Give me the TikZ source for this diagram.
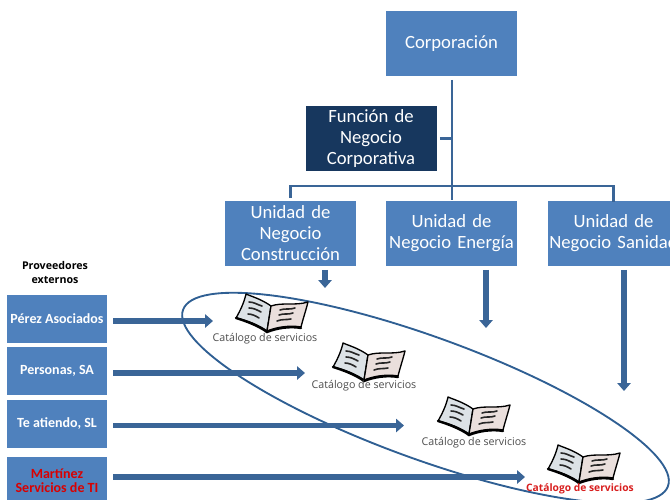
\documentclass[tikz,border=0pt]{standalone}
\usepackage{fontspec}
\setmainfont{Carlito}
\newfontfamily\boldsmall{Open Sans}
\usetikzlibrary{shapes.geometric,arrows.meta}
\definecolor{boxblue}{HTML}{4F81BD}
\definecolor{boxdark}{HTML}{17375E}
\definecolor{linkblue}{HTML}{3A6597}
\definecolor{ringblue}{HTML}{2F5F93}
\definecolor{pageL}{HTML}{DCE2E6}
\definecolor{pageR}{HTML}{EADFDC}
\definecolor{redtext}{HTML}{D81E1E}
\tikzset{
  x=0.75pt,y=-0.75pt,
  bx/.style={fill=boxblue,draw=none,inner sep=0pt,text=white,align=center,font=\fontsize{14}{15.75}\selectfont,text width=98.25pt,minimum height=48.75pt,anchor=center},
  darkbx/.style={bx,fill=boxdark},
  prov/.style={fill=boxblue,inner sep=0pt,text=white,align=center,font=\fontsize{10.5}{10.5}\bfseries\selectfont,minimum width=75pt,minimum height=36pt},
  link/.style={draw=linkblue,line width=2.2pt},
  blockarrow/.style={draw=linkblue,line width=4pt,-{Triangle[length=6pt,width=10pt]}},
  catlabel/.style={inner sep=0pt,font=\boldsmall\fontsize{8}{9}\selectfont,text=black!70},
  book/.pic={
    \fill[pageL,draw=black,line width=1pt,line join=round] (36,13) .. controls (26,6) and (18,4) .. (11,1) .. controls (9,10) and (5,18) .. (1,25) .. controls (11,27) and (24,32) .. (32,38) -- cycle;
    \fill[pageR,draw=black,line width=1pt,line join=round] (36,13) .. controls (48,9) and (60,13) .. (73,9) .. controls (71,17) and (68,26) .. (66,34) .. controls (55,32) and (42,34) .. (32,38) -- cycle;
    \draw[black,line width=1.8pt,line cap=round] (1,25) .. controls (11,28) and (24,33) .. (32,39) .. controls (42,35) and (55,33) .. (66,35);
    \draw[black!85,line width=1.2pt,line cap=round]
      (14,9) .. controls (19,9) and (23,12) .. (27,13)
      (14,15) .. controls (19,15) and (22,17) .. (26,19)
      (13,21) .. controls (17,21) and (21,23) .. (24,25)
      (45,17) .. controls (50,15) and (55,17) .. (60,15)
      (44,22) .. controls (49,20) and (53,22) .. (58,20)
      (42,28) .. controls (47,26) and (51,27) .. (56,26);
  }
}
\begin{document}
\begin{tikzpicture}
\useasboundingbox (0,0) rectangle (670,499);
\begin{scope}
\clip (0,0) rectangle (670,499);
\node[ellipse,draw=ringblue,line width=1.4pt,minimum width=387pt,minimum height=91.5pt,inner sep=0pt,rotate=-20] (ring) at (425.5,398) {};

\node[bx] (corp) at (451.5,44) {Corporación};
\node[darkbx] (func) at (371,138.5) {Función de\\Negocio\\Corporativa};
\node[bx] (ucon) at (290.5,233) {Unidad de\\Negocio\\Construcción};
\node[bx] (uene) at (451.5,233) {Unidad de\\Negocio Energía};
\node[bx] (usan) at (613.5,233) {Unidad de\\Negocio Sanidad};

\coordinate (bus) at (452,186);
\draw[link] (corp.south -| bus) ++(0,3) -- (uene.north -| bus);
\draw[link] (func.east) ++(3,0) -- (func.east -| bus);
\draw[link] (ucon.north) ++(0,-2) |- (bus) -| ([yshift=-1.5pt]usan.north);

\node[prov] (p1) at (57,319) {Pérez Asociados};
\node[prov] (p2) at (57,371) {Personas, SA};
\node[prov] (p3) at (57,424) {Te atiendo, SL};
\node[prov,text=red!85!black] (p4) at (57,481) {Martínez\\Servicios de TI};

\node[inner sep=0pt,align=center,font=\boldsmall\fontsize{8}{10.5}\bfseries\selectfont] (ext) at (55,272) {Proveedores\\externos};

\pic at (235,293) {book};
\pic at (332,342) {book};
\pic at (437,396) {book};
\pic at (547,444) {book};

\node[catlabel] (c1) at (265,339) {Catálogo de servicios};
\node[catlabel] (c2) at (364,386) {Catálogo de servicios};
\node[catlabel] (c3) at (474,443) {Catálogo de servicios};
\node[catlabel,text=redtext,font=\boldsmall\fontsize{7.7}{9}\bfseries\selectfont] (c4) at (580,489) {Catálogo de servicios};

\coordinate (e1) at (213,321);
\coordinate (e2) at (305,373);
\coordinate (e3) at (404,425.5);
\coordinate (e4) at (525,477);
\coordinate (d1) at (325,288);
\coordinate (d2) at (486,328);
\coordinate (d3) at (624,391);
\draw[blockarrow] ([xshift=4.5pt]p1.east |- e1) -- (e1);
\draw[blockarrow] ([xshift=4.5pt]p2.east |- e2) -- (e2);
\draw[blockarrow] ([xshift=4.5pt]p3.east |- e3) -- (e3);
\draw[blockarrow] ([xshift=4.5pt]p4.east |- e4) -- (e4);
\draw[blockarrow] ([yshift=-3pt]ucon.south -| d1) -- (d1);
\draw[blockarrow] ([yshift=-3pt]uene.south -| d2) -- (d2);
\draw[blockarrow] ([yshift=-3pt]usan.south -| d3) -- (d3);
\end{scope}
\end{tikzpicture}
\end{document}
